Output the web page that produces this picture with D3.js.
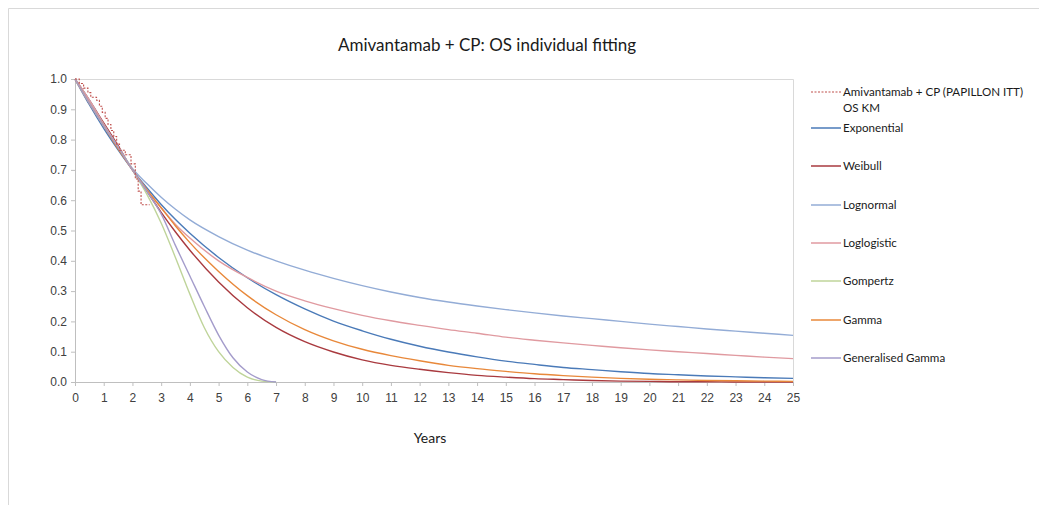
<!DOCTYPE html>
<html>
<head>
<meta charset="utf-8">
<script src="https://cdn.jsdelivr.net/npm/d3@7"></script>
<style>
    body { margin: 0; background: #fff; }
    .axis path, .axis line { stroke: #bfbfbf; }
    .axis text { font-family: 'Liberation Sans', Arial, sans-serif; font-size: 12px; fill: #404040; }
    .lbl { font-family: Lato, 'Liberation Sans', sans-serif; fill: #1a1a1a; }
</style>
</head>
<body>
<div id="vis"></div>
<script>
// Time points for the long-running fitted curves
var timeLong = [0, 0.5, 1, 1.5, 2, 2.5, 3, 3.5, 4, 5, 6, 7, 8, 9, 10, 11, 12, 13, 14, 15, 16, 17, 18, 19, 20, 21, 22, 23, 24, 25];
// Time points for the curves that reach zero early
var timeShort = [0, 0.5, 1, 1.5, 2, 2.5, 3, 3.5, 4, 4.5, 5, 5.5, 6, 6.5, 7];

var exponential = [1, 0.915, 0.837, 0.766, 0.70, 0.641, 0.586, 0.536, 0.491, 0.411, 0.344, 0.288, 0.241, 0.201, 0.169, 0.141, 0.118, 0.099, 0.083, 0.069, 0.058, 0.048, 0.041, 0.034, 0.028, 0.024, 0.020, 0.017, 0.014, 0.012];
var weibull = [1, 0.93, 0.855, 0.78, 0.70, 0.63, 0.56, 0.495, 0.435, 0.33, 0.245, 0.18, 0.133, 0.099, 0.073, 0.055, 0.042, 0.031, 0.022, 0.016, 0.011, 0.008, 0.005, 0.003, 0.002, 0.001, 0.001, 0, 0, 0];
var lognormal = [1, 0.93, 0.85, 0.775, 0.705, 0.655, 0.61, 0.57, 0.535, 0.48, 0.435, 0.40, 0.369, 0.342, 0.318, 0.297, 0.279, 0.264, 0.251, 0.239, 0.228, 0.218, 0.209, 0.2, 0.191, 0.183, 0.175, 0.168, 0.161, 0.154];
var loglogistic = [1, 0.93, 0.85, 0.775, 0.70, 0.635, 0.575, 0.52, 0.475, 0.40, 0.345, 0.30, 0.268, 0.242, 0.22, 0.202, 0.187, 0.173, 0.161, 0.148, 0.138, 0.129, 0.121, 0.113, 0.106, 0.1, 0.094, 0.088, 0.082, 0.077];
var gamma = [1, 0.92, 0.845, 0.77, 0.70, 0.635, 0.575, 0.515, 0.46, 0.365, 0.285, 0.222, 0.173, 0.136, 0.108, 0.087, 0.07, 0.055, 0.044, 0.035, 0.027, 0.021, 0.016, 0.012, 0.009, 0.007, 0.005, 0.004, 0.003, 0.002];
var gompertz = [1, 0.92, 0.845, 0.775, 0.70, 0.62, 0.525, 0.41, 0.29, 0.18, 0.10, 0.048, 0.016, 0.003, 0];
var genGamma = [1, 0.92, 0.845, 0.775, 0.70, 0.63, 0.555, 0.45, 0.35, 0.25, 0.155, 0.08, 0.033, 0.008, 0];

// Kaplan-Meier steps (time, survival)
var kmTime = [0, 0.15, 0.3, 0.45, 0.55, 0.75, 0.85, 0.95, 1.05, 1.15, 1.25, 1.35, 1.45, 1.55, 1.75, 1.95, 2.1, 2.2, 2.3, 2.6];
var kmSurv = [1, 0.985, 0.97, 0.955, 0.94, 0.93, 0.91, 0.89, 0.87, 0.85, 0.83, 0.81, 0.785, 0.765, 0.75, 0.72, 0.67, 0.63, 0.585, 0.585];

var legendLabels = ['Amivantamab + CP (PAPILLON ITT)', 'Exponential', 'Weibull', 'Lognormal', 'Loglogistic', 'Gompertz', 'Gamma', 'Generalised Gamma'];
var xTicks = d3.range(0, 26);
var yTicks = [0, 0.1, 0.2, 0.3, 0.4, 0.5, 0.6, 0.7, 0.8, 0.9, 1.0];

(function() {
    var W = 1039, H = 505;
    var margin = { left: 75, top: 79, right: 246, bottom: 123 };
    var width = W - margin.left - margin.right;
    var height = H - margin.top - margin.bottom;

    var svg = d3.select('#vis').append('svg')
        .attr('width', W)
        .attr('height', H);

    // outer chart border (left + top)
    svg.append('path')
        .attr('d', 'M8.5,' + H + 'V8.5H' + W)
        .attr('fill', 'none')
        .attr('stroke', '#d9d9d9');

    // title
    svg.append('text')
        .attr('class', 'lbl')
        .attr('x', 487)
        .attr('y', 51)
        .attr('text-anchor', 'middle')
        .style('font-size', '17px')
        .text('Amivantamab + CP: OS individual fitting');

    var g = svg.append('g')
        .attr('transform', 'translate(' + margin.left + ',' + margin.top + ')');

    var xScale = d3.scaleLinear().domain([0, 25]).range([0, width]);
    var yScale = d3.scaleLinear().domain([0, 1]).range([height, 0]);

    // plot area border (top + right)
    g.append('path')
        .attr('d', 'M0,0.5H' + (width + 0.5) + 'V' + height)
        .attr('fill', 'none')
        .attr('stroke', '#d9d9d9');

    var xAxis = d3.axisBottom(xScale).tickValues(xTicks).tickSize(4).tickSizeOuter(0)
        .tickFormat(d3.format('d'));
    var yAxis = d3.axisLeft(yScale).tickValues(yTicks).tickSize(4).tickSizeOuter(0)
        .tickFormat(d3.format('.1f'));

    g.append('g').attr('class', 'axis')
        .attr('transform', 'translate(0,' + height + ')')
        .call(xAxis)
        .selectAll('text').attr('dy', '1.05em');
    g.append('g').attr('class', 'axis')
        .call(yAxis)
        .selectAll('text').attr('x', -8);

    // axis title
    svg.append('text')
        .attr('class', 'lbl')
        .attr('x', 430)
        .attr('y', 443)
        .attr('text-anchor', 'middle')
        .style('font-size', '14px')
        .text('Years');

    var series = [
        { name: 'Exponential', t: timeLong, s: exponential, color: '#4a7ab8' },
        { name: 'Weibull', t: timeLong, s: weibull, color: '#a93a3f' },
        { name: 'Lognormal', t: timeLong, s: lognormal, color: '#93acd6' },
        { name: 'Loglogistic', t: timeLong, s: loglogistic, color: '#e09aa0' },
        { name: 'Gompertz', t: timeShort, s: gompertz, color: '#bfd49a' },
        { name: 'Gamma', t: timeLong, s: gamma, color: '#e8883a' },
        { name: 'Generalised Gamma', t: timeShort, s: genGamma, color: '#a49ccb' }
    ];

    var line = d3.line()
        .x(function(d) { return xScale(d[0]); })
        .y(function(d) { return yScale(d[1]); })
        .curve(d3.curveMonotoneX);

    series.forEach(function(sr) {
        g.append('path')
            .datum(sr.t.map(function(t, i) { return [t, sr.s[i]]; }))
            .attr('fill', 'none')
            .attr('stroke', sr.color)
            .attr('stroke-width', 1.4)
            .attr('d', line);
    });

    // KM step curve
    var kmLine = d3.line()
        .x(function(d) { return xScale(d[0]); })
        .y(function(d) { return yScale(d[1]); })
        .curve(d3.curveStepAfter);
    g.append('path')
        .datum(kmTime.map(function(t, i) { return [t, kmSurv[i]]; }))
        .attr('fill', 'none')
        .attr('stroke', '#c0504d')
        .attr('stroke-width', 1.1)
        .attr('stroke-dasharray', '2,1.5')
        .attr('d', kmLine);

    // legend
    var legendColors = ['#c0504d'].concat(series.map(function(d) { return d.color; }));
    var legendY = [92, 128, 166, 205, 243, 281, 320, 358];
    var leg = svg.append('g');
    legendLabels.forEach(function(lbl, i) {
        leg.append('line')
            .attr('x1', 811).attr('x2', 841)
            .attr('y1', legendY[i]).attr('y2', legendY[i])
            .attr('stroke', legendColors[i])
            .attr('stroke-width', i === 0 ? 1.1 : 1.5)
            .attr('stroke-dasharray', i === 0 ? '2,1.5' : null);
        leg.append('text')
            .attr('class', 'lbl')
            .attr('x', 843)
            .attr('y', legendY[i] + 4)
            .style('font-size', '11.6px')
            .text(lbl);
    });
    leg.append('text')
        .attr('class', 'lbl')
        .attr('x', 843)
        .attr('y', 112)
        .style('font-size', '11.6px')
        .text('OS KM');
})();
</script>
</body>
</html>
